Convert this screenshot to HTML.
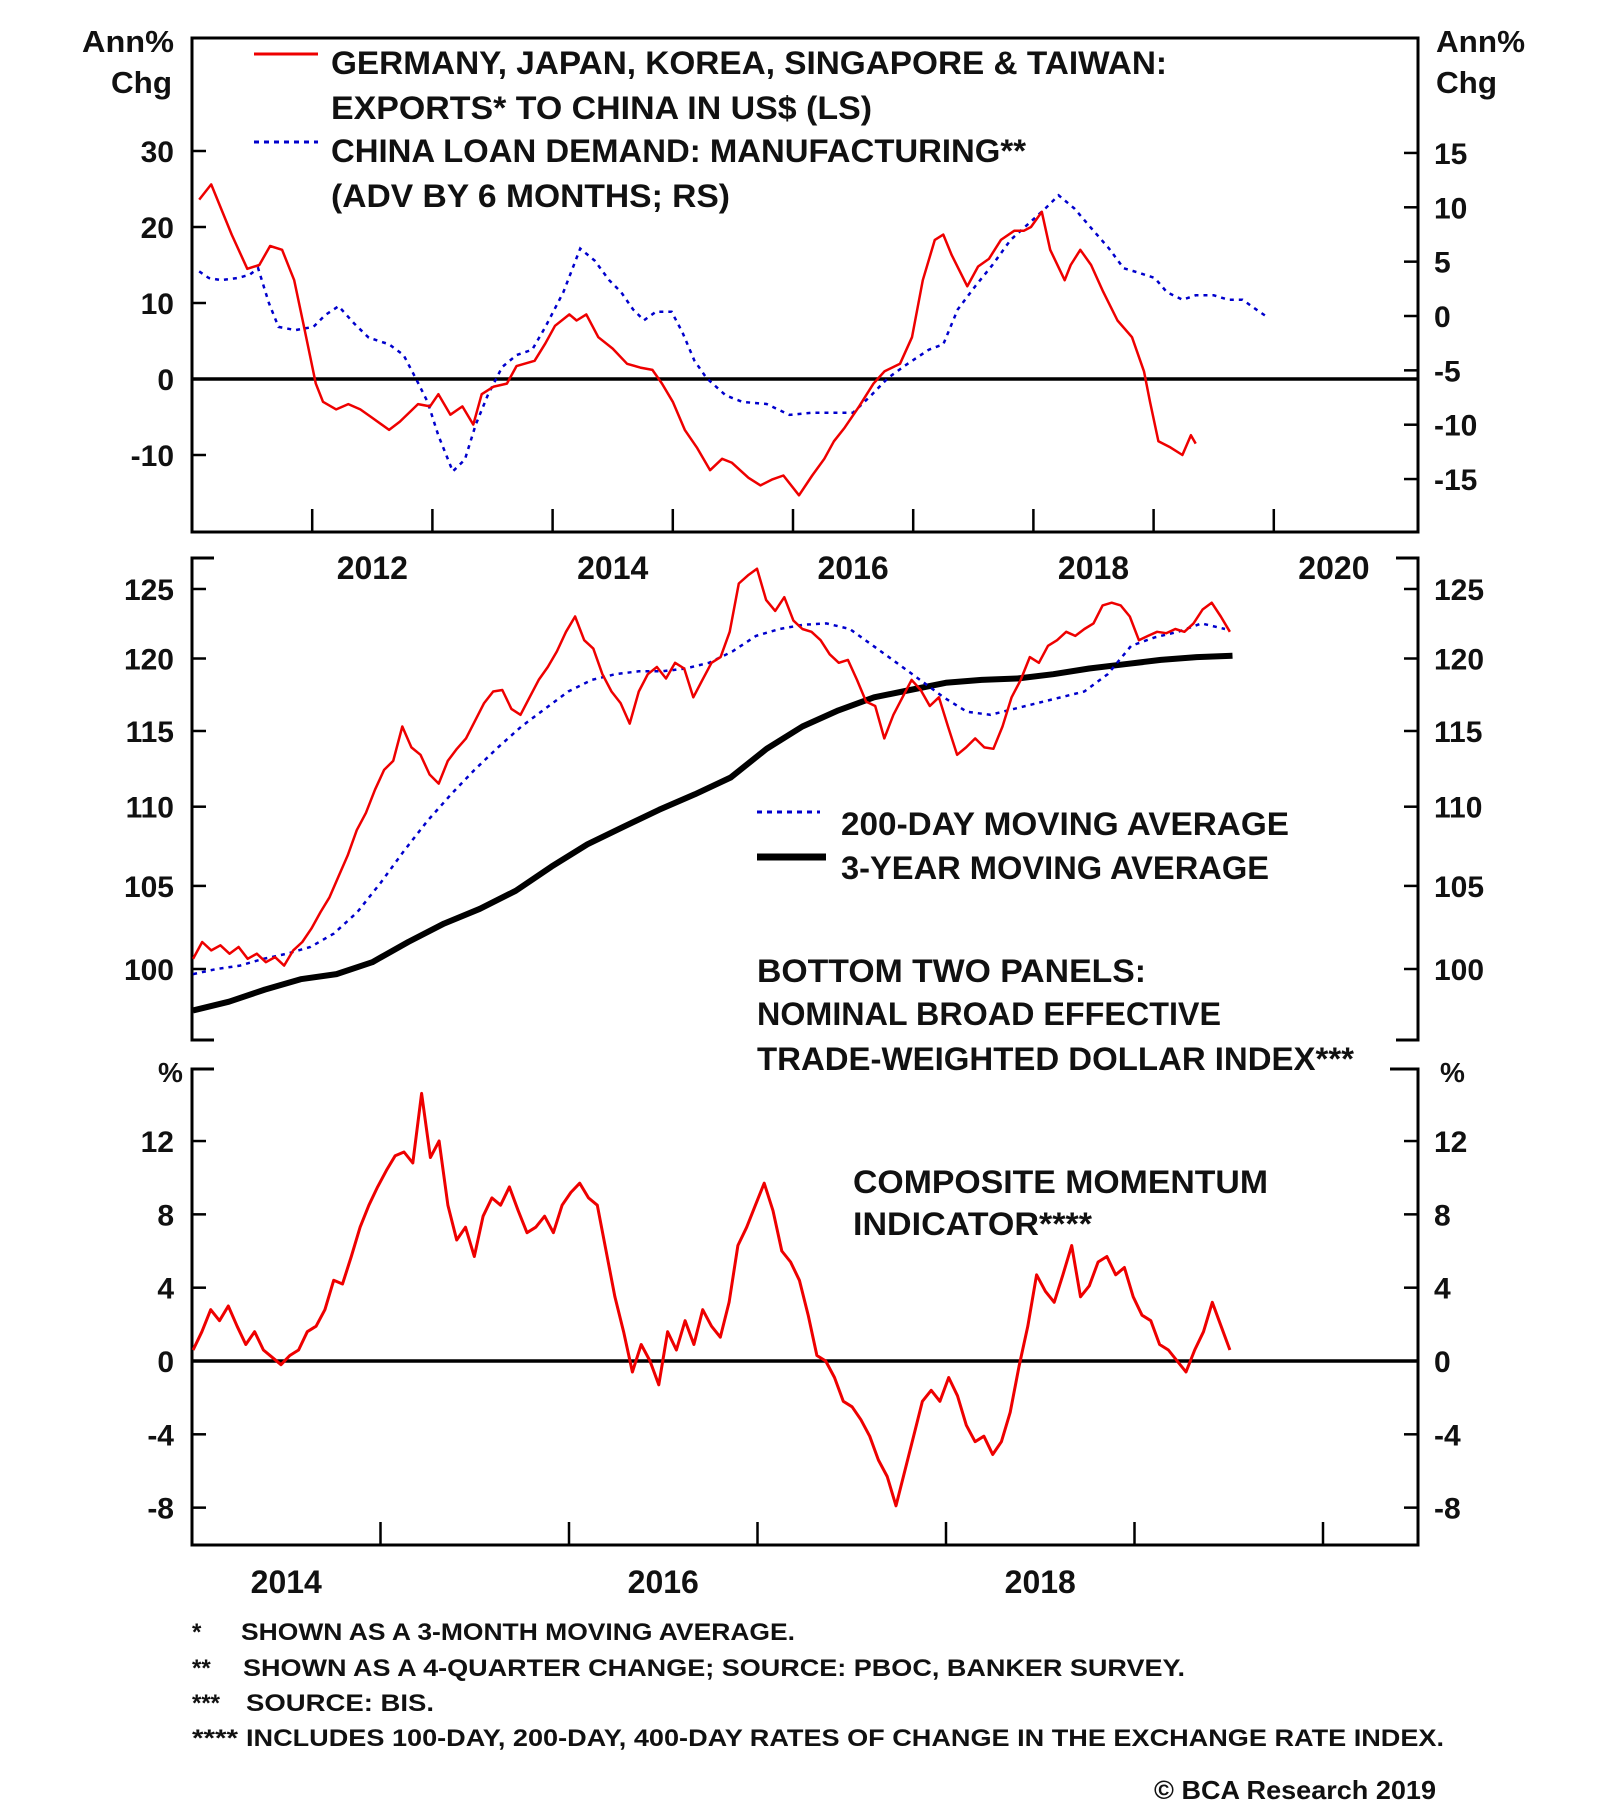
<!DOCTYPE html>
<html><head><meta charset="utf-8"><title>Exports to China, Dollar Index and Momentum</title>
<style>
html,body{margin:0;padding:0;background:#fff;}
svg{display:block;font-family:"Liberation Sans",Arial,sans-serif;font-weight:bold;}
</style></head>
<body>
<svg id="chart" xmlns="http://www.w3.org/2000/svg" width="1600" height="1816" viewBox="0 0 1600 1816">
<rect width="1600" height="1816" fill="#fff"/>
<g id="frames" stroke="#000" stroke-width="3" fill="none">
  <rect x="192" y="38" width="1226" height="494"/>
  <path d="M214,558 H192 V1040 H214 M1396,558 H1418 V1040 H1396"/>
  <path d="M214,1069 H192 V1545 H1418 V1069 H1390"/>
</g>
<g id="ticks" stroke="#000" stroke-width="2.5"></g>
<g id="series"></g>
<g id="labels" fill="#111" font-size="30"></g>
<g id="text" fill="#111">
  <text x="82" y="52" font-size="31" textLength="92" lengthAdjust="spacingAndGlyphs">Ann%</text>
  <text x="111" y="93" font-size="31" textLength="61" lengthAdjust="spacingAndGlyphs">Chg</text>
  <text x="1436" y="52" font-size="31" textLength="89" lengthAdjust="spacingAndGlyphs">Ann%</text>
  <text x="1436" y="93" font-size="31" textLength="61" lengthAdjust="spacingAndGlyphs">Chg</text>
  <line x1="254" y1="54" x2="318" y2="54" stroke="#e00" stroke-width="3"/>
  <text x="331" y="74" font-size="32" textLength="836" lengthAdjust="spacingAndGlyphs">GERMANY, JAPAN, KOREA, SINGAPORE &amp; TAIWAN:</text>
  <text x="331" y="119" font-size="32" textLength="541" lengthAdjust="spacingAndGlyphs">EXPORTS* TO CHINA IN US$ (LS)</text>
  <line x1="254" y1="142" x2="318" y2="142" stroke="#00c" stroke-width="3" stroke-dasharray="5 5"/>
  <text x="331" y="162" font-size="32" textLength="695" lengthAdjust="spacingAndGlyphs">CHINA LOAN DEMAND: MANUFACTURING**</text>
  <text x="331" y="207" font-size="32" textLength="399" lengthAdjust="spacingAndGlyphs">(ADV BY 6 MONTHS; RS)</text>

  <line x1="757" y1="812" x2="820" y2="812" stroke="#00c" stroke-width="3" stroke-dasharray="5 5"/>
  <text x="841" y="835" font-size="32" textLength="448" lengthAdjust="spacingAndGlyphs">200-DAY MOVING AVERAGE</text>
  <line x1="757" y1="857" x2="826" y2="857" stroke="#000" stroke-width="7"/>
  <text x="841" y="879" font-size="32" textLength="428" lengthAdjust="spacingAndGlyphs">3-YEAR MOVING AVERAGE</text>
  <text x="757" y="982" font-size="32" textLength="389" lengthAdjust="spacingAndGlyphs">BOTTOM TWO PANELS:</text>
  <text x="757" y="1025" font-size="32" textLength="464" lengthAdjust="spacingAndGlyphs">NOMINAL BROAD EFFECTIVE</text>
  <text x="757" y="1070" font-size="32" textLength="597" lengthAdjust="spacingAndGlyphs">TRADE-WEIGHTED DOLLAR INDEX***</text>

  <text x="158" y="1082" font-size="28">%</text>
  <text x="1440" y="1082" font-size="28">%</text>
  <text x="853" y="1193" font-size="32" textLength="415" lengthAdjust="spacingAndGlyphs">COMPOSITE MOMENTUM</text>
  <text x="853" y="1235" font-size="32" textLength="239" lengthAdjust="spacingAndGlyphs">INDICATOR****</text>

  <g font-size="24">
    <text x="192" y="1640">*</text>
    <text x="241" y="1640" textLength="554" lengthAdjust="spacingAndGlyphs">SHOWN AS A 3-MONTH MOVING AVERAGE.</text>
    <text x="192" y="1676">**</text>
    <text x="243" y="1676" textLength="942" lengthAdjust="spacingAndGlyphs">SHOWN AS A 4-QUARTER CHANGE; SOURCE: PBOC, BANKER SURVEY.</text>
    <text x="192" y="1711">***</text>
    <text x="246" y="1711" textLength="188" lengthAdjust="spacingAndGlyphs">SOURCE: BIS.</text>
    <text x="192" y="1746" textLength="46" lengthAdjust="spacingAndGlyphs">****</text>
    <text x="246" y="1746" textLength="1198" lengthAdjust="spacingAndGlyphs">INCLUDES 100-DAY, 200-DAY, 400-DAY RATES OF CHANGE IN THE EXCHANGE RATE INDEX.</text>
  </g>
  <text x="1154" y="1799" font-size="26" textLength="282" lengthAdjust="spacingAndGlyphs">© BCA Research 2019</text>
</g>
</svg>
<script>
// ---- Top panel data ----
const topYearLabels = ["2012","2014","2016","2018","2020"];
const topLeftTicks = [30,20,10,0,-10];
const topRightTicks = [15,10,5,0,-5,-10,-15];
const exportsDates = [2011.06,2011.16,2011.33,2011.46,2011.56,2011.65,2011.75,2011.85,2011.93,2012.03,2012.09,2012.20,2012.30,2012.40,2012.49,2012.64,2012.73,2012.88,2012.98,2013.05,2013.15,2013.25,2013.34,2013.41,2013.51,2013.62,2013.70,2013.85,2013.94,2014.02,2014.14,2014.20,2014.28,2014.38,2014.50,2014.62,2014.73,2014.83,2014.91,2015.00,2015.10,2015.20,2015.31,2015.41,2015.49,2015.63,2015.73,2015.83,2015.92,2016.05,2016.16,2016.26,2016.34,2016.43,2016.55,2016.67,2016.76,2016.89,2016.99,2017.08,2017.18,2017.25,2017.32,2017.45,2017.54,2017.63,2017.73,2017.84,2017.92,2017.98,2018.07,2018.14,2018.26,2018.31,2018.39,2018.48,2018.58,2018.70,2018.82,2018.92,2018.97,2019.04,2019.14,2019.24,2019.31,2019.35];
const exportsValues = [23.6,25.6,19,14.5,15,17.5,17,13,7,-0.6,-3,-4,-3.3,-4,-5,-6.7,-5.6,-3.3,-3.6,-2,-4.7,-3.6,-6,-2,-1,-0.6,1.7,2.4,4.7,7,8.5,7.7,8.5,5.5,4,2,1.5,1.2,-0.6,-3,-6.7,-9,-12,-10.5,-11,-13,-14,-13.2,-12.7,-15.3,-12.7,-10.5,-8.2,-6.4,-3.6,-0.6,1,2,5.5,13,18.3,19,16.3,12.2,14.8,15.8,18.3,19.5,19.5,20,22,17,13,15,17,15,11.5,7.7,5.5,1,-3,-8.2,-9,-10,-7.4,-8.5];
const loanDates = [2011.06,2011.14,2011.24,2011.38,2011.48,2011.55,2011.64,2011.72,2011.86,2012.01,2012.11,2012.22,2012.35,2012.47,2012.64,2012.76,2012.86,2012.96,2013.05,2013.17,2013.27,2013.36,2013.46,2013.58,2013.70,2013.83,2013.94,2014.09,2014.23,2014.35,2014.47,2014.57,2014.67,2014.76,2014.86,2014.99,2015.08,2015.18,2015.28,2015.44,2015.58,2015.78,2015.97,2016.16,2016.36,2016.50,2016.65,2016.79,2016.94,2017.13,2017.25,2017.37,2017.52,2017.66,2017.81,2017.95,2018.10,2018.21,2018.34,2018.48,2018.63,2018.75,2018.87,2019.01,2019.11,2019.24,2019.35,2019.50,2019.62,2019.74,2019.88,2019.96];
const loanValues = [4.1,3.5,3.3,3.5,3.8,4.4,1.2,-1,-1.3,-1,0.1,0.9,-0.7,-2,-2.6,-3.6,-5.7,-7.9,-11,-14.3,-13.2,-10,-7.3,-4.7,-3.6,-3.1,-1,2.2,6.2,5.1,3.3,2.2,0.6,-0.4,0.4,0.4,-1.5,-4.1,-5.7,-7.3,-7.9,-8.1,-9.1,-8.9,-8.9,-8.9,-7.3,-5.7,-4.5,-3.1,-2.6,0.6,2.8,4.7,7,8.4,9.9,11.1,9.9,8.1,6.2,4.4,4,3.5,2.2,1.5,1.9,1.9,1.5,1.5,0.4,-0.2];

// ---- Middle panel data (dollar index) ----
const midTicks = [125,120,115,110,105,100];
const dollarStart = 2013.506, dollarEnd = 2019.006;
const dollarValues = [100.6,101.6,101.1,101.4,100.9,101.3,100.6,100.9,100.4,100.7,100.2,101.1,101.6,102.4,103.4,104.3,105.6,106.9,108.5,109.6,111.1,112.4,113.0,115.3,113.9,113.4,112.1,111.5,113.0,113.8,114.5,115.7,116.9,117.7,117.8,116.5,116.1,117.3,118.5,119.4,120.5,121.9,123.0,121.3,120.7,118.9,117.7,116.9,115.5,117.7,118.9,119.4,118.6,119.7,119.3,117.3,118.5,119.7,120.1,121.9,125.4,126.0,126.5,124.2,123.4,124.4,122.7,122.1,121.9,121.3,120.3,119.7,119.9,118.5,117.0,116.7,114.5,116.1,117.3,118.5,117.8,116.7,117.3,115.3,113.4,113.9,114.5,113.9,113.8,115.3,117.3,118.5,120.1,119.7,120.9,121.3,121.9,121.6,122.1,122.5,123.8,124.0,123.8,123.0,121.3,121.6,121.9,121.8,122.1,121.9,122.5,123.5,124.0,123.0,121.9];
const ma200Start = 2013.506, ma200End = 2018.98;
const ma200Values = [99.7,100,100.2,100.6,100.9,101.3,102.1,103.4,105.2,107.2,109.1,110.8,112.4,113.9,115.3,116.5,117.7,118.5,118.9,119.1,119.1,119.3,119.7,120.5,121.6,122.1,122.4,122.5,122.1,120.9,119.7,118.5,117.3,116.3,116.1,116.5,116.9,117.3,117.7,118.9,120.9,121.5,121.9,122.5,122.1];
const ma3yStart = 2013.506, ma3yEnd = 2019.02;
const ma3yValues = [97.6,98.1,98.8,99.4,99.7,100.4,101.6,102.7,103.6,104.7,106.2,107.6,108.7,109.8,110.8,111.9,113.8,115.3,116.4,117.3,117.8,118.3,118.5,118.6,118.9,119.3,119.6,119.9,120.1,120.2];

// ---- Bottom panel data (momentum) ----
const botTicks = [12,8,4,0,-4,-8];
const botYearLabels = ["2014","2016","2018"];
const momStart = 2013.506, momEnd = 2019.006;
const momValues = [0.6,1.6,2.8,2.2,3.0,1.9,0.9,1.6,0.6,0.2,-0.2,0.3,0.6,1.6,1.9,2.8,4.4,4.2,5.7,7.3,8.5,9.5,10.4,11.2,11.4,10.8,14.6,11.1,12.0,8.5,6.6,7.3,5.7,7.9,8.9,8.5,9.5,8.2,7.0,7.3,7.9,7.0,8.5,9.2,9.7,8.9,8.5,6.0,3.5,1.6,-0.6,0.9,0.0,-1.3,1.6,0.6,2.2,0.9,2.8,1.9,1.3,3.2,6.3,7.3,8.5,9.7,8.2,6.0,5.4,4.4,2.5,0.3,0.0,-0.9,-2.2,-2.5,-3.2,-4.1,-5.4,-6.3,-7.9,-6.0,-4.1,-2.2,-1.6,-2.2,-0.9,-1.9,-3.5,-4.4,-4.1,-5.1,-4.4,-2.8,-0.3,1.9,4.7,3.8,3.2,4.7,6.3,3.5,4.1,5.4,5.7,4.7,5.1,3.5,2.5,2.2,0.9,0.6,0.0,-0.6,0.6,1.6,3.2,1.9,0.6];

// ---- scales ----
const NS = "http://www.w3.org/2000/svg";
const xTop = y => 192 + 120.2 * (y - 2011);
const xBot = t => 192 + 188.5 * (t - 2013.5);
const yTopL = v => 379 - 7.6 * v;
const yTopR = v => 316 - 10.87 * v;
const yMid = v => 969 - 1703 * Math.log(v / 100);
const yBot = v => 1361 - 18.33 * v;

function mk(tag, attrs, parent) {
  const e = document.createElementNS(NS, tag);
  for (const k in attrs) e.setAttribute(k, attrs[k]);
  parent.appendChild(e);
  return e;
}
function pathFromDates(dates, vals, xs, ys) {
  const n = Math.min(dates.length, vals.length);
  let d = "";
  for (let i = 0; i < n; i++) d += (i ? "L" : "M") + xs(dates[i]).toFixed(1) + "," + ys(vals[i]).toFixed(1);
  return d;
}
function evenDates(start, end, n) {
  const out = [];
  for (let i = 0; i < n; i++) out.push(start + (end - start) * i / (n - 1));
  return out;
}
const ticksG = document.getElementById("ticks");
const seriesG = document.getElementById("series");
const labelsG = document.getElementById("labels");

// zero lines
let z = mk("line", {x1:192, x2:1418, y1:yTopL(0), y2:yTopL(0), stroke:"#000", "stroke-width":3.5}, seriesG);


z = mk("line", {x1:192, x2:1418, y1:yBot(0), y2:yBot(0), stroke:"#000", "stroke-width":3.5}, seriesG);



// top panel ticks & labels
for (let yr = 2012; yr <= 2020; yr++) {
  const t = mk("line", {x1:xTop(yr), x2:xTop(yr), y1:532, y2:509}, ticksG);
  
  
}
topLeftTicks.forEach(v => {
  const t = mk("line", {x1:192, x2:206, y1:yTopL(v), y2:yTopL(v)}, ticksG);
  
  
  const l = mk("text", {x:174, y:yTopL(v) + 11, "text-anchor":"end"}, labelsG);
  l.textContent = v;
  
  
});
topRightTicks.forEach(v => {
  const t = mk("line", {x1:1404, x2:1418, y1:yTopR(v), y2:yTopR(v)}, ticksG);
  
  
  const l = mk("text", {x:1434, y:yTopR(v) + 11}, labelsG);
  l.textContent = v;
  
  
});
topYearLabels.forEach(s => {
  const yr = +s;
  const l = mk("text", {x:xTop(yr + 0.5), y:579, "text-anchor":"middle", "font-size":32}, labelsG);
  l.textContent = s;
  
  
});

// middle ticks
midTicks.forEach(v => {
  const t = mk("line", {x1:192, x2:206, y1:yMid(v), y2:yMid(v)}, ticksG);
  
  
  const t2 = mk("line", {x1:1404, x2:1418, y1:yMid(v), y2:yMid(v)}, ticksG);
  
  
  const l = mk("text", {x:174, y:yMid(v) + 11, "text-anchor":"end"}, labelsG);
  l.textContent = v;
  
  
  const l2 = mk("text", {x:1434, y:yMid(v) + 11}, labelsG);
  l2.textContent = v;
  
  
});

// bottom ticks
botTicks.forEach(v => {
  const t = mk("line", {x1:192, x2:206, y1:yBot(v), y2:yBot(v)}, ticksG);
  
  
  const t2 = mk("line", {x1:1404, x2:1418, y1:yBot(v), y2:yBot(v)}, ticksG);
  
  
  const l = mk("text", {x:174, y:yBot(v) + 11, "text-anchor":"end"}, labelsG);
  l.textContent = v;
  
  
  const l2 = mk("text", {x:1434, y:yBot(v) + 11}, labelsG);
  l2.textContent = v;
  
  
});
for (let t = 2014.5; t < 2020; t += 1) {
  const e = mk("line", {x1:xBot(t), x2:xBot(t), y1:1545, y2:1522}, ticksG);
  
  
}
botYearLabels.forEach(s => {
  const l = mk("text", {x:xBot(+s), y:1593, "text-anchor":"middle", "font-size":32}, labelsG);
  l.textContent = s;
  
  
});

// series
let p = mk("path", {d:pathFromDates(loanDates, loanValues, xTop, yTopR), fill:"none", stroke:"#00c", "stroke-width":2.5, "stroke-dasharray":"4 5"}, seriesG);


p = mk("path", {d:pathFromDates(exportsDates, exportsValues, xTop, yTopL), fill:"none", stroke:"#e00", "stroke-width":2.5, "stroke-linejoin":"round"}, seriesG);



p = mk("path", {d:pathFromDates(evenDates(ma3yStart, ma3yEnd, ma3yValues.length), ma3yValues, xBot, yMid), fill:"none", stroke:"#000", "stroke-width":6, "stroke-linejoin":"round"}, seriesG);


p = mk("path", {d:pathFromDates(evenDates(ma200Start, ma200End, ma200Values.length), ma200Values, xBot, yMid), fill:"none", stroke:"#00c", "stroke-width":2.5, "stroke-dasharray":"4 5"}, seriesG);


p = mk("path", {d:pathFromDates(evenDates(dollarStart, dollarEnd, dollarValues.length), dollarValues, xBot, yMid), fill:"none", stroke:"#e00", "stroke-width":2.5, "stroke-linejoin":"round"}, seriesG);



p = mk("path", {d:pathFromDates(evenDates(momStart, momEnd, momValues.length), momValues, xBot, yBot), fill:"none", stroke:"#e00", "stroke-width":3, "stroke-linejoin":"round"}, seriesG);


</script>
</body></html>
